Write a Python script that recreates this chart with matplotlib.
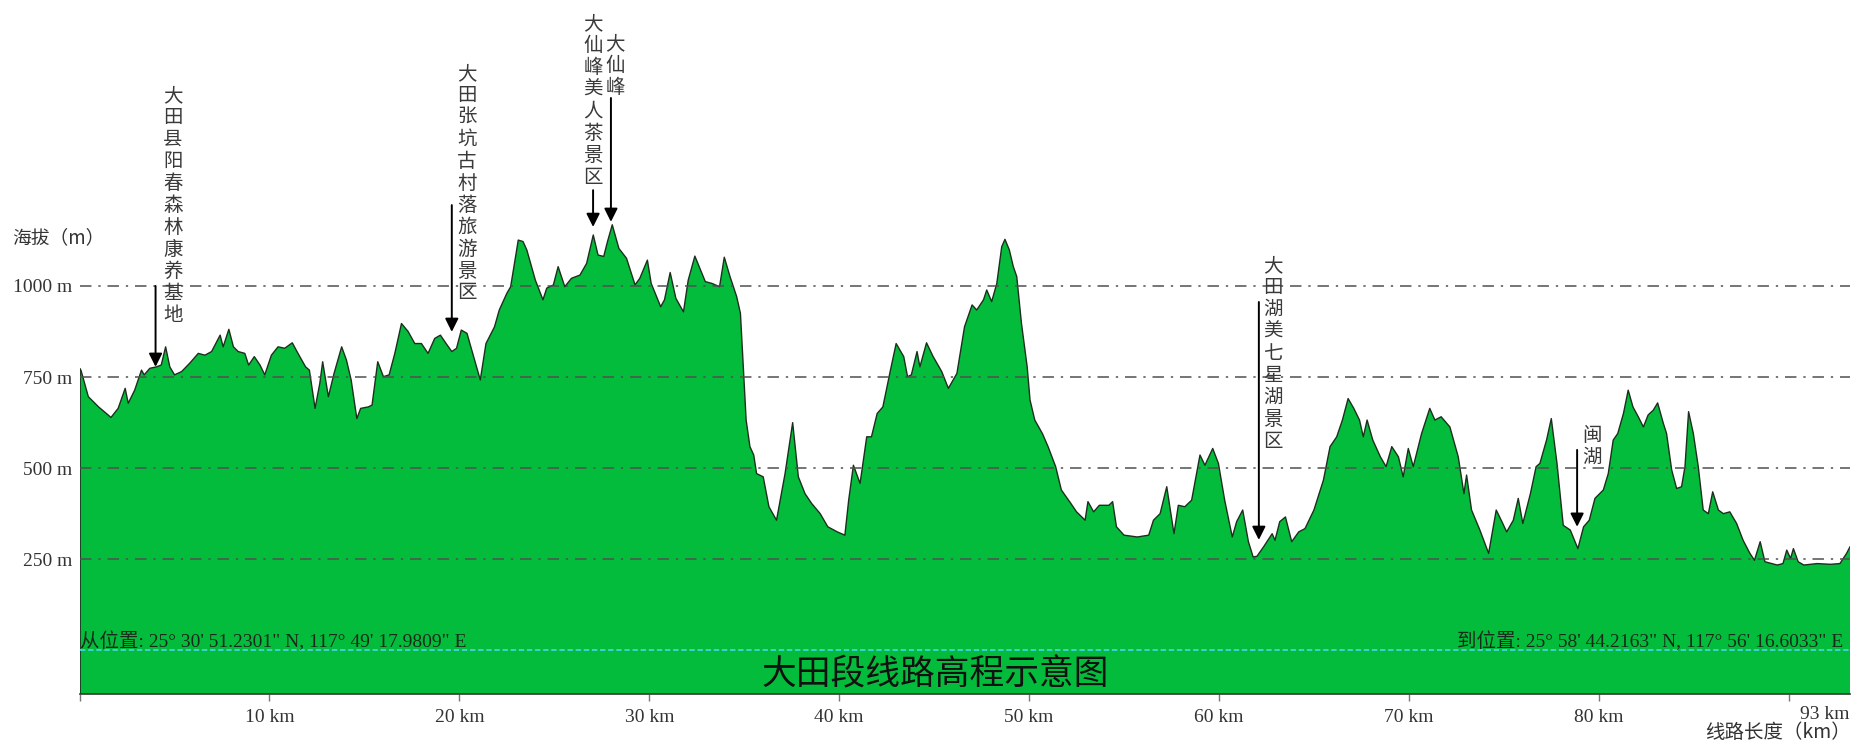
import numpy as np
import matplotlib.pyplot as plt
from matplotlib.transforms import blended_transform_factory

# elevation profile (km along route, metres)
dist_km = [
    0.0, 0.07, 0.46, 1.0, 1.5, 1.65, 2.03, 2.4, 2.56, 2.9, 3.26, 3.4, 3.7, 4.05, 4.3,
    4.53, 4.75, 5.0, 5.37, 5.8, 6.25, 6.6, 6.95, 7.4, 7.56, 7.86, 8.1, 8.35, 8.7, 8.9,
    9.2, 9.5, 9.75, 10.1, 10.45, 10.8, 11.2, 11.5, 11.9, 12.1, 12.4, 12.65, 12.8, 13.1,
    13.4, 13.8, 14.05, 14.3, 14.6, 14.8, 15.2, 15.4, 15.7, 16.0, 16.3, 16.6, 16.95,
    17.3, 17.65, 18.0, 18.35, 18.7, 19.0, 19.3, 19.6, 19.85, 20.1, 20.4, 20.7, 21.1,
    21.4, 21.85, 22.1, 22.5, 22.7, 23.1, 23.35, 23.55, 24.0, 24.4, 24.6, 24.95, 25.2,
    25.55, 25.9, 26.35, 26.7, 27.05, 27.3, 27.6, 27.8, 28.05, 28.4, 28.8, 29.25, 29.5,
    29.9, 30.1, 30.6, 30.8, 31.1, 31.4, 31.8, 32.05, 32.4, 32.7, 32.95, 33.3, 33.7,
    33.95, 34.25, 34.6, 34.8, 34.95, 35.1, 35.3, 35.5, 35.65, 36.0, 36.3, 36.7, 37.15,
    37.55, 37.85, 38.2, 38.55, 39.0, 39.4, 39.9, 40.3, 40.5, 40.75, 41.1, 41.45, 41.7,
    42.0, 42.3, 42.7, 43.0, 43.4, 43.6, 43.8, 44.1, 44.25, 44.6, 44.95, 45.4, 45.75,
    46.2, 46.6, 47.0, 47.24, 47.6, 47.77, 48.03, 48.3, 48.56, 48.73, 48.96, 49.17,
    49.35, 49.6, 49.9, 50.05, 50.3, 50.7, 51.0, 51.4, 51.7, 52.2, 52.5, 52.95, 53.1,
    53.4, 53.7, 54.2, 54.4, 54.6, 55.0, 55.7, 56.3, 56.55, 56.9, 57.25, 57.63, 57.86,
    58.2, 58.56, 59.0, 59.26, 59.67, 59.97, 60.3, 60.7, 60.93, 61.25, 61.55, 61.8,
    62.0, 62.35, 62.8, 62.95, 63.2, 63.5, 63.83, 64.2, 64.53, 65.0, 65.5, 65.85, 66.2,
    66.5, 66.8, 67.1, 67.4, 67.6, 67.8, 68.1, 68.5, 68.8, 69.1, 69.45, 69.7, 69.97,
    70.23, 70.67, 71.1, 71.37, 71.7, 72.16, 72.6, 72.9, 73.04, 73.3, 73.74, 74.2,
    74.6, 74.9, 75.15, 75.5, 75.76, 76.0, 76.4, 76.7, 76.9, 77.25, 77.5, 77.8, 78.13,
    78.5, 78.9, 79.2, 79.5, 79.8, 80.24, 80.5, 80.76, 81.0, 81.3, 81.55, 81.8, 82.08,
    82.35, 82.6, 82.87, 83.1, 83.4, 83.57, 83.84, 84.1, 84.36, 84.54, 84.73, 84.98,
    85.24, 85.5, 85.77, 86.0, 86.3, 86.56, 86.9, 87.26, 87.6, 87.96, 88.2, 88.5,
    88.75, 89.4, 89.7, 89.9, 90.1, 90.25, 90.5, 90.8, 91.5, 92.2, 92.7, 93.05, 93.23,
]
elev_m = [
    772, 769, 696, 668, 646, 639, 664, 719, 678, 714, 769, 756, 774, 778, 783,
    833, 778, 756, 765, 788, 815, 810, 820, 865, 833, 881, 833, 820, 815, 783,
    806, 783, 756, 810, 833, 829, 844, 815, 778, 769, 664, 733, 792, 696,
    760, 833, 797, 742, 636, 664, 668, 673, 792, 751, 756, 815, 897,
    875, 842, 842, 815, 856, 865, 842, 820, 829, 879, 870, 815, 742,
    842, 888, 934, 980, 998, 1126, 1122, 1099, 1016, 962, 994, 1003, 1053,
    998, 1021, 1030, 1062, 1140, 1085, 1081, 1122, 1168, 1103, 1076, 1003, 1021,
    1071, 1007, 943, 962, 1037, 966, 929, 1016, 1082, 1044, 1012, 1007, 998,
    1079, 1026, 971, 925, 778, 632, 559, 536, 485, 476, 394, 357, 485,
    625, 476, 430, 403, 375, 339, 325, 316, 412, 508, 458, 586, 586,
    650, 668, 769, 842, 806, 751, 756, 820, 778, 844, 806, 765, 719,
    760, 888, 948, 934, 962, 989, 957, 1007, 1108, 1128, 1099, 1053,
    1026, 897, 778, 687, 632, 595, 559, 504, 440, 403, 380, 357, 408,
    380, 398, 398, 408, 339, 316, 311, 316, 357, 375, 449, 320, 398,
    394, 412, 536, 508, 554, 513, 412, 311, 353, 385, 298, 256,
    258, 284, 320, 302, 353, 366, 298, 325, 334, 385, 467, 559, 586,
    632, 691, 664, 632, 586, 632, 577, 531, 504, 559, 531, 476, 554,
    504, 595, 664, 632, 641, 613, 531, 430, 481, 385, 330, 266,
    385, 353, 325, 357, 417, 348, 430, 504, 513, 577, 636, 513, 343,
    330, 279, 339, 357, 417, 440, 485, 577, 595, 650, 714, 668, 641,
    613, 646, 659, 679, 623, 595, 495, 444, 449, 504, 655, 595,
    504, 385, 375, 435, 385, 375, 380, 348, 302, 266, 247, 298,
    243, 234, 238, 275, 252, 279, 243, 234, 238, 236, 238, 266, 284,
]

y_ticks = [250, 500, 750, 1000]
y_labels = ["250 m", "500 m", "750 m", "1000 m"]
x_ticks = [0, 10, 20, 30, 40, 50, 60, 70, 80, 90]
x_labels = ["", "10 km", "20 km", "30 km", "40 km", "50 km", "60 km", "70 km", "80 km", ""]
end_label = "93 km"

poi_names = ["大田县阳春森林康养基地", "大田张坑古村落旅游景区", "大仙峰美人茶景区",
             "大仙峰", "大田湖美七星湖景区", "闽湖"]
poi_km = [4.0, 19.6, 27.04, 27.98, 62.1, 78.86]
poi_tip_m = [778, 874, 1162, 1176, 303, 339]

start_text = "从位置: 25° 30' 51.2301\" N, 117° 49' 17.9809\" E"
end_text = "到位置: 25° 58' 44.2163\" N, 117° 56' 16.6033\" E"
title = "大田段线路高程示意图"


def main():
    plt.rcParams["font.family"] = ["Liberation Serif", "Noto Sans CJK SC"]
    cjk = ["Noto Sans CJK SC", "DejaVu Sans"]

    W, H = 1852, 746
    fig = plt.figure(figsize=(W / 100, H / 100), dpi=100)
    ax = fig.add_axes([79.6 / W, 1 - 694 / H, (1850 - 79.6) / W, 694 / H])

    ymin, ymax = -120, 1785
    x = np.array(dist_km)
    y = np.array(elev_m)

    green = "#04bc3c"
    ax.fill_between(x, y, ymin, facecolor=green, edgecolor="none", zorder=1)
    ax.plot(x, y, color="#1e2e1e", lw=1.0, zorder=2)
    ax.plot([x[0], x[0]], [ymin, y[0]], color="#1e2e1e", lw=1.2, zorder=2)

    ax.set_xlim(0, x[-1])
    ax.set_ylim(ymin, ymax)

    # dash-dot reference lines drawn over the fill
    for v in y_ticks:
        ax.axhline(v, color="#505050", lw=1.1, ls=(0, (7.5, 4.5, 1.5, 4.5)), zorder=3)
    ax.axhline(0, color="#3fd6d6", lw=1.3, ls=(0, (3, 1.5)), zorder=3)

    ax.set_yticks(y_ticks)
    ax.set_yticklabels(y_labels)
    ax.set_xticks(x_ticks)
    ax.set_xticklabels(x_labels)
    ax.tick_params(axis="y", length=0, pad=5, labelsize=14, labelcolor="#333333")
    ax.tick_params(axis="x", length=5, width=1, color="#777777", pad=6,
                   labelsize=14, labelcolor="#333333")
    for s in ["top", "right", "left"]:
        ax.spines[s].set_visible(False)
    ax.spines["bottom"].set_color("#2a3a2a")
    ax.spines["bottom"].set_linewidth(1.2)

    tr = blended_transform_factory(ax.transAxes, ax.transData)
    ax.text(1.0, -175, end_label, transform=tr, ha="right", va="center",
            fontsize=14, color="#333333", clip_on=False)

    # points of interest: arrow start (m), text column x (km), text top (m)
    layout = [
        (1000, 4.92, 1551),
        (1222, 20.4, 1612),
        (1263, 27.04, 1749),
        (1516, 28.2, 1694),
        (956, 62.85, 1085),
        (550, 79.64, 619),
    ]
    pitch = 15.8  # points between stacked characters
    for name, km, tip, (start, tx, ttop) in zip(poi_names, poi_km, poi_tip_m, layout):
        ax.annotate("", xy=(km, tip), xytext=(km, start),
                    arrowprops=dict(arrowstyle="-|>", color="black", lw=1.4,
                                    mutation_scale=20, shrinkA=0, shrinkB=0),
                    zorder=5)
        for i, ch in enumerate(name):
            ax.annotate(ch, xy=(tx, ttop), xytext=(0, -i * pitch),
                        textcoords="offset points", ha="center", va="top",
                        fontsize=14, color="#3a3a3a", family=cjk,
                        annotation_clip=False)

    fig.text(80 / W, 1 - 641 / H, start_text, ha="left", va="center",
             fontsize=14, color="#1a2a1a")
    fig.text(1843 / W, 1 - 641 / H, end_text, ha="right", va="center",
             fontsize=14, color="#1a2a1a")
    fig.text(935 / W, 1 - 675 / H, title, ha="center", va="center",
             fontsize=25, color="#111111", family=cjk)
    fig.text(12 / W, 1 - 238 / H, "海拔（m）", ha="left", va="center",
             fontsize=13.5, color="#333333", family=cjk)
    fig.text(1851 / W, 1 - 733 / H, "线路长度（km）", ha="right", va="center",
             fontsize=14, color="#333333", family=cjk)

    fig.savefig("out.png", dpi=100, facecolor="white")
    plt.close(fig)


if __name__ == "__main__":
    main()
